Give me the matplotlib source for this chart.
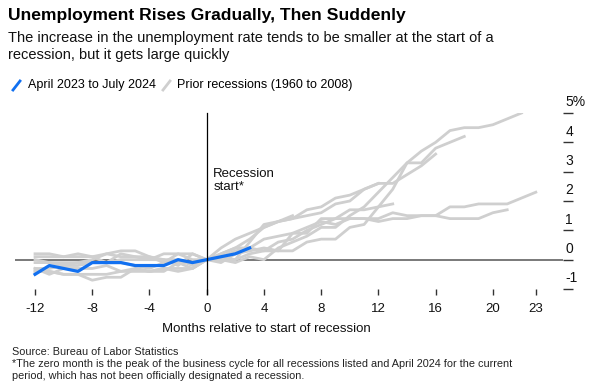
import matplotlib
matplotlib.use("Agg")
import matplotlib.pyplot as plt
from matplotlib.lines import Line2D
from matplotlib.transforms import ScaledTranslation, blended_transform_factory

plt.rcParams['font.family'] = ['Liberation Sans', 'DejaVu Sans']

# change in unemployment rate vs. the zero month, each list starts at month -12
current = [-0.5, -0.2, -0.3, -0.4, -0.1, -0.1, -0.1, -0.2, -0.2, -0.2, 0.0, -0.1, 0.0,
           0.1, 0.2, 0.4]

rec_1960 = [0.0, -0.1, -0.2, -0.1, 0.0, 0.2, 0.3, 0.3, 0.1, 0.0, -0.2, 0.2, 0.0,
            -0.1, 0.2, 0.3, 0.4, 0.3, 0.9, 0.9, 1.4, 1.4, 1.7, 1.7, 1.8, 1.9]
rec_1969 = [-0.1, -0.1, -0.1, -0.1, -0.1, -0.1, 0.0, 0.0, 0.0, 0.2, 0.2, 0.0, 0.0,
            0.4, 0.7, 0.9, 1.1, 1.3, 1.4, 1.5, 1.6, 1.9, 2.0, 2.4, 2.6]
rec_1973 = [0.1, 0.1, 0.1, 0.2, 0.1, 0.2, 0.1, 0.1, 0.0, 0.0, 0.0, -0.2, 0.0,
            0.1, 0.3, 0.4, 0.3, 0.3, 0.3, 0.6, 0.7, 0.7, 1.1, 1.2, 1.8, 2.4, 3.3,
            3.3, 3.8, 4.0, 4.2]
rec_1980 = [-0.4, -0.4, -0.5, -0.5, -0.7, -0.6, -0.6, -0.3, -0.4, -0.3, -0.4, -0.3, 0.0,
            0.0, 0.0, 0.6, 1.2, 1.3, 1.5]
rec_1981 = [0.2, 0.2, 0.1, 0.1, 0.1, -0.1, 0.2, 0.1, 0.1, -0.1, 0.2, 0.2, 0.0,
            0.2, 0.4, 0.7, 1.1, 1.3, 1.4, 1.7, 1.8, 2.1, 2.2, 2.4, 2.6, 2.6, 2.9,
            3.2, 3.6]
rec_1990 = [-0.3, -0.3, -0.2, -0.2, -0.1, -0.1, -0.1, -0.2, -0.3, -0.1, -0.1, -0.3, 0.0,
            0.2, 0.4, 0.4, 0.7, 0.8, 0.9, 1.1, 1.3, 1.2, 1.4, 1.4, 1.3, 1.4, 1.4,
            1.5, 1.5, 1.8, 1.8, 1.9, 1.9, 1.9, 2.1, 2.3]
rec_2001 = [-0.3, -0.5, -0.3, -0.3, -0.3, -0.2, -0.4, -0.4, -0.4, -0.4, -0.1, -0.1, 0.0,
            0.1, 0.0, 0.2, 0.3, 0.6, 0.7, 1.0, 1.2, 1.4, 1.4, 1.4, 1.4, 1.6, 1.5,
            1.5, 1.5, 1.4, 1.4, 1.4, 1.6, 1.7]
rec_2007 = [-0.4, -0.4, -0.5, -0.5, -0.5, -0.5, -0.4, -0.3, -0.4, -0.3, -0.3, -0.3, 0.0,
            0.0, -0.1, 0.1, 0.0, 0.4, 0.6, 0.8, 1.1, 1.1, 1.5, 1.8, 2.3, 2.8, 3.3,
            3.7, 4.0, 4.4, 4.5, 4.5, 4.6, 4.8, 5.0]
prior = [rec_1960, rec_1969, rec_1973, rec_1980, rec_1981, rec_1990, rec_2001, rec_2007]

xticks = [-12, -8, -4, 0, 4, 8, 12, 16, 20, 23]
yticks = [-1, 0, 1, 2, 3, 4, 5]
ylabels = ['-1', '0', '1', '2', '3', '4', '5%']

BLUE = '#1170F0'
GRAY = '#CFCFCF'
W, H = 589, 391

fig = plt.figure(figsize=(W / 100, H / 100), dpi=100)
ax = fig.add_axes([15 / W, 1 - 289 / H, 548 / W, 176 / H])
ax.set_xlim(-13.4, 24.9)
ax.set_ylim(-1, 5)
for s in ax.spines.values():
    s.set_visible(False)

ax.axhline(0, color='#555555', lw=1.1, zorder=1)
for r in prior:
    ax.plot(range(-12, -12 + len(r)), r, color=GRAY, lw=2.0, zorder=2)
ax.plot(range(-12, -12 + len(current)), current, color=BLUE, lw=2.3, zorder=3)
ax.plot([0, 0], [-1.17, 5], color='black', lw=0.9, zorder=4, clip_on=False)

ax.text(0.45, 2.7, 'Recession\nstart*', fontsize=9.5, va='center', ha='left',
        linespacing=1.15, color='#111111')

ax.set_xticks(xticks)
ax.set_xticklabels([str(t) for t in xticks])
ax.tick_params(axis='x', length=4, width=1, color='#333333', pad=6,
               labelsize=9.5, labelcolor='#111111')
ax.yaxis.tick_right()
ax.set_yticks(yticks)
ax.tick_params(axis='y', length=7.5, width=1, color='#333333', labelright=False)
trans = blended_transform_factory(ax.transAxes, ax.transData) + \
    ScaledTranslation(0.025, 0.065, fig.dpi_scale_trans)
for y, lab in zip(yticks, ylabels):
    ax.text(1.0, y, lab, transform=trans, ha='left', va='baseline',
            fontsize=10, color='#111111')

fig.text(8 / W, 1 - 8 / H, 'Unemployment Rises Gradually, Then Suddenly',
         fontsize=12.6, weight='bold', va='top', color='black')
fig.text(8 / W, 1 - 31 / H,
         'The increase in the unemployment rate tends to be smaller at the start of a\n'
         'recession, but it gets large quickly',
         fontsize=10.5, va='top', linespacing=1.3, color='#111111')

# legend
fig.add_artist(Line2D([13 / W, 20 / W], [1 - 90 / H, 1 - 81 / H], color=BLUE, lw=2))
fig.text(28 / W, 1 - 85 / H, 'April 2023 to July 2024', fontsize=9, va='center')
fig.add_artist(Line2D([163 / W, 170 / W], [1 - 90 / H, 1 - 81 / H], color=GRAY, lw=2))
fig.text(177 / W, 1 - 85 / H, 'Prior recessions (1960 to 2008)', fontsize=9, va='center')

fig.text(266 / W, 1 - 329 / H, 'Months relative to start of recession',
         fontsize=9.5, ha='center', va='center', color='#111111')
fig.text(12 / W, 1 - 352 / H, 'Source: Bureau of Labor Statistics',
         fontsize=7.8, va='center', color='#222222')
fig.text(12 / W, 1 - 359 / H,
         '*The zero month is the peak of the business cycle for all recessions listed and April 2024 for the current\n'
         'period, which has not been officially designated a recession.',
         fontsize=7.8, va='top', linespacing=1.2, color='#222222')

fig.savefig('out.png', dpi=100)
